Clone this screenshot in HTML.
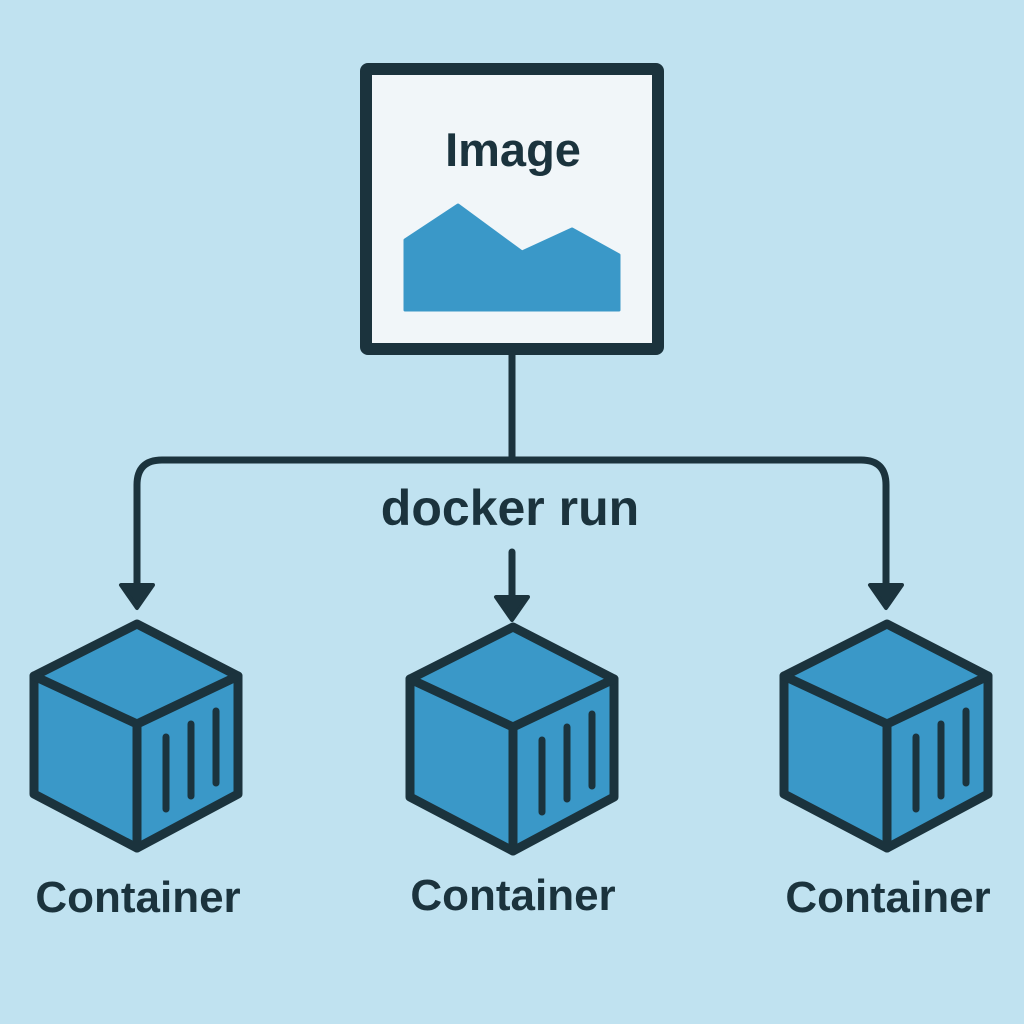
<!DOCTYPE html>
<html><head><meta charset="utf-8"><style>
html,body{margin:0;padding:0;background:#c0e2f0;}
svg{display:block}
text{font-family:"Liberation Sans",sans-serif;font-weight:bold;fill:#1b333d}
</style></head><body>
<svg width="1024" height="1024" viewBox="0 0 1024 1024" xmlns="http://www.w3.org/2000/svg">
<defs>
<g id="cube" stroke="#1b333d" stroke-width="9" stroke-linejoin="round" stroke-linecap="round">
  <path d="M0 0 L101 52 L101 170 L0 224 L-103 170 L-103 52 Z" fill="#3a98c8"/>
  <path d="M-103 52 L0 100 L101 52 M0 100 L0 224" fill="none"/>
  <path d="M29 113 L29 185 M54 100 L54 172 M79 87 L79 159" fill="none" stroke-width="7"/>
</g>
</defs>
<rect x="366" y="69" width="292" height="280" fill="#f1f6f9" stroke="#1b333d" stroke-width="12" rx="2"/>
<text x="513" y="166" font-size="47" text-anchor="middle">Image</text>
<path d="M405 240 L458 205 L522 252 L572 229 L619 255 L619 310 L405 310 Z" fill="#3a98c8" stroke="#3a98c8" stroke-width="3" stroke-linejoin="round"/>
<g stroke="#1b333d" stroke-width="7" fill="none" stroke-linecap="round">
  <path d="M512 355 L512 460"/>
  <path d="M137 590 L137 485 Q137 460 162 460 L861 460 Q886 460 886 485 L886 590"/>
  <path d="M512 552 L512 600"/>
</g>
<g fill="#1b333d" stroke="#1b333d" stroke-width="4" stroke-linejoin="round">
  <path d="M121 585 L153 585 L137 608 Z"/>
  <path d="M496 597 L528 597 L512 620 Z"/>
  <path d="M870 585 L902 585 L886 608 Z"/>
</g>
<text x="510" y="525" font-size="50" text-anchor="middle">docker run</text>
<use href="#cube" x="137" y="624"/>
<use href="#cube" x="513" y="627"/>
<use href="#cube" x="887" y="624"/>
<text x="138" y="912" font-size="44" text-anchor="middle">Container</text>
<text x="513" y="910" font-size="44" text-anchor="middle">Container</text>
<text x="888" y="912" font-size="44" text-anchor="middle">Container</text>
</svg>
</body></html>
